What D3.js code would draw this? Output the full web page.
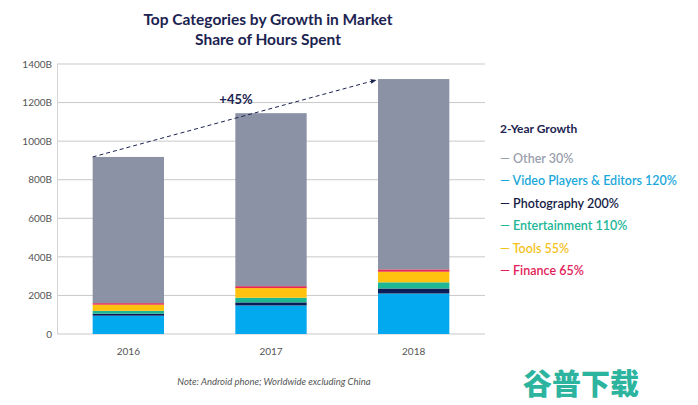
<!DOCTYPE html>
<html><head><meta charset="utf-8">
<script src="https://cdn.jsdelivr.net/npm/d3@7"></script>
<style>body{margin:0;background:#fff;}svg{display:block;font-family:Lato,"Open Sans",sans-serif;}</style>
</head><body>
<svg id="c" width="698" height="405"></svg>
<script>
const years = ["2016","2017","2018"];
const seriesNames = ["Video Players & Editors","Photography","Entertainment","Tools","Finance","Other"];
const videoVals = [95,148,210];
const photoVals = [10,16,26];
const entVals = [15,24,32];
const toolsVals = [32,50,55];
const financeVals = [8,10,12];
const otherVals = [758,897,987];
const yTicks = [0,200,400,600,800,1000,1200,1400];
const legendTitle = "2-Year Growth";
const legendLabels = ["Other 30%","Video Players & Editors 120%","Photography 200%","Entertainment 110%","Tools 55%","Finance 65%"];
const growthLabel = "+45%";

const barColors = ["#03a9ee","#0b1d56","#1db796","#ffc20e","#e8294f","#8b92a5"];
const legendColors = ["#9aa0ad","#1aa7da","#161c45","#20b696","#f4c21c","#e11d58"];

const svg = d3.select("#c");
const rows = years.map((y,i)=>({year:y,"Video Players & Editors":videoVals[i],"Photography":photoVals[i],"Entertainment":entVals[i],"Tools":toolsVals[i],"Finance":financeVals[i],"Other":otherVals[i]}));
const stack = d3.stack().keys(seriesNames)(rows);

const x = d3.scaleBand().domain(years).range([57,485]).paddingInner(0.5).paddingOuter(0.25);
const y = d3.scaleLinear().domain([0,1400]).range([334,64]);

// gridlines
svg.append("g").selectAll("line").data(yTicks).join("line")
  .attr("x1",57).attr("x2",485).attr("y1",d=>y(d)).attr("y2",d=>y(d))
  .attr("stroke","#c9c9c9").attr("stroke-width",1);
svg.append("line").attr("x1",57.5).attr("x2",57.5).attr("y1",y(1400)).attr("y2",y(0)).attr("stroke","#d4d4d4");

// y axis labels
const yAxis = d3.axisLeft(y).tickValues(yTicks).tickSize(0).tickPadding(5).tickFormat(d=>d===0?"0":d+"B");
const ga = svg.append("g").attr("transform","translate(57,0)").call(yAxis);
ga.select(".domain").remove();
ga.selectAll("text").attr("fill","#555").style("font-size","10px").style("font-family","Lato, sans-serif");

// bars
svg.append("g").selectAll("g").data(stack).join("g").attr("fill",(d,i)=>barColors[i])
  .selectAll("rect").data(d=>d).join("rect")
  .attr("x",d=>x(d.data.year)).attr("width",x.bandwidth())
  .attr("y",d=>y(d[1])).attr("height",d=>y(d[0])-y(d[1]));

// x axis labels
const xAxis = d3.axisBottom(x).tickSize(0).tickPadding(14);
const gx = svg.append("g").attr("transform","translate(0,334)").call(xAxis);
gx.select(".domain").remove();
gx.selectAll("text").attr("fill","#555").style("font-size","10px").style("font-family","Lato, sans-serif");

// dashed arrow
const tot = i => rows[i]["Other"]+videoVals[i]+photoVals[i]+entVals[i]+toolsVals[i]+financeVals[i];
const defs = svg.append("defs");
defs.append("marker").attr("id","arr").attr("viewBox","0 0 10 10").attr("refX",9).attr("refY",5)
  .attr("markerWidth",6).attr("markerHeight",6).attr("orient","auto")
  .append("path").attr("d","M0,1 L10,5 L0,9 z").attr("fill","#1b2350");
svg.append("line").attr("x1",x("2016")).attr("y1",y(tot(0)))
  .attr("x2",x("2018")-2).attr("y2",y(tot(2))+1)
  .attr("stroke","#1b2350").attr("stroke-width",1).attr("stroke-dasharray","4,3")
  .attr("marker-end","url(#arr)");
svg.append("text").attr("x",236).attr("y",104).attr("text-anchor","middle")
  .attr("fill","#1b2350").style("font-size","13px").style("font-weight","bold").text(growthLabel);

// title
const title = svg.append("text").attr("text-anchor","middle").attr("fill","#1b2350")
  .style("font-size","15.5px").style("font-weight","bold");
title.append("tspan").attr("x",268).attr("y",25).text("Top Categories by Growth in Market");
title.append("tspan").attr("x",268).attr("y",45).text("Share of Hours Spent");

// legend
svg.append("text").attr("x",500).attr("y",133).attr("fill","#1b2350")
  .style("font-size","12px").style("font-weight","bold").text(legendTitle);
svg.append("g").selectAll("text").data(legendLabels).join("text")
  .attr("x",500).attr("y",(d,i)=>163+i*22.4).attr("fill",(d,i)=>legendColors[i])
  .style("font-size","12.5px").style("font-weight","600").text(d=>"— "+d);

// note
svg.append("text").attr("x",274).attr("y",385).attr("text-anchor","middle").attr("fill","#555")
  .style("font-size","9.5px").style("font-style","italic").text("Note: Android phone; Worldwide excluding China");

// watermark text
svg.append("text").attr("x",581).attr("y",395).attr("text-anchor","middle").attr("fill","#2db49f")
  .style("font-size","29px").style("font-weight","900").style("font-family","'Noto Sans CJK SC', sans-serif").text("谷普下载");
</script>
</body></html>
